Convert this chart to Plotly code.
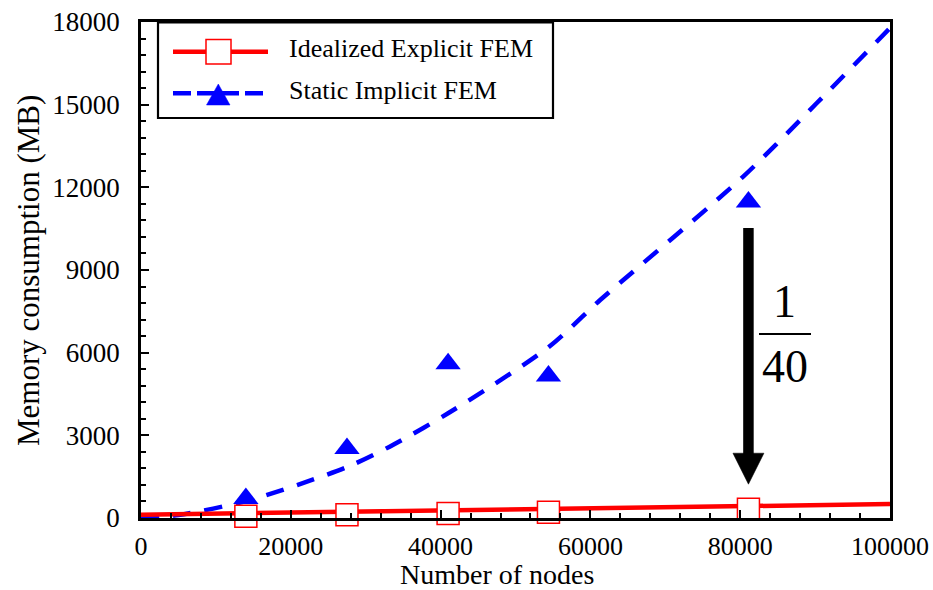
import plotly.graph_objects as go

# ---- data ----
nodes = [14000, 27500, 41000, 54400, 81100]
explicit_mb = [60, 120, 165, 210, 320]        # Idealized Explicit FEM
implicit_mb = [710, 2520, 5600, 5150, 11470]  # Static Implicit FEM

# trend lines
explicit_trend_x = [0, 50000, 100000]
explicit_trend_y = [120, 310, 505]
implicit_trend_x = [0, 5000, 14500, 27500, 33200, 41000, 54400, 61300, 80400, 90200, 100000]
implicit_trend_y = [0, 110, 650, 1850, 2590, 3800, 6200, 7910, 12390, 15050, 17780]

x_ticks = [0, 20000, 40000, 60000, 80000, 100000]
y_ticks = [0, 3000, 6000, 9000, 12000, 15000, 18000]

legend_labels = ["Idealized Explicit FEM", "Static Implicit FEM"]
ratio_num, ratio_den = "1", "40"

RED = "#ff0000"
BLUE = "#0000ff"
FONT = "Liberation Serif, Times New Roman, serif"

W, H = 933, 590
L, R, T, B = 141, 43, 22, 72
PW, PH = W - L - R, H - T - B


def px(x):
    return (x - L) / PW


def py(y):
    return (H - B - y) / PH


fig = go.Figure()

fig.add_trace(go.Scatter(
    x=implicit_trend_x, y=implicit_trend_y, mode="lines",
    line=dict(color=BLUE, width=4.5, dash="18px,14px", shape="spline", smoothing=0.8),
    showlegend=False, hoverinfo="skip"))
fig.add_trace(go.Scatter(
    x=nodes, y=implicit_mb, mode="markers",
    marker=dict(symbol="triangle-up", size=22, color=BLUE, line=dict(width=0)),
    showlegend=False, cliponaxis=False))
fig.add_trace(go.Scatter(
    x=explicit_trend_x, y=explicit_trend_y, mode="lines",
    line=dict(color=RED, width=4.5),
    showlegend=False, hoverinfo="skip"))
fig.add_trace(go.Scatter(
    x=nodes, y=explicit_mb, mode="markers",
    marker=dict(symbol="square", size=22, color="white", line=dict(color=RED, width=1.5)),
    showlegend=False, cliponaxis=False))

axis_common = dict(
    showline=True, linecolor="black", linewidth=2.5, mirror=True,
    ticks="inside", ticklen=8, tickwidth=2, tickcolor="black",
    showgrid=False, zeroline=False, automargin=False,
)

fig.update_xaxes(range=[0, 100000], tickvals=x_ticks, ticktext=[str(v) for v in x_ticks],
                 minor=dict(dtick=4000, tick0=0, ticks="inside", ticklen=5.5, tickwidth=1.5,
                            tickcolor="black"),
                 tickfont=dict(family=FONT, size=26, color="black"),
                 ticklabelstandoff=3, **axis_common)
fig.update_yaxes(range=[0, 18000], tickvals=y_ticks, ticktext=[str(v) for v in y_ticks],
                 minor=dict(dtick=600, tick0=0, ticks="inside", ticklen=5, tickwidth=1.5,
                            tickcolor="black"),
                 tickfont=dict(family=FONT, size=27, color="black"),
                 ticklabelstandoff=13, **axis_common)

shapes = []
annotations = []

# legend box
shapes.append(dict(type="rect", xref="paper", yref="paper",
                   x0=px(158), x1=px(553), y0=py(118), y1=py(22.5),
                   line=dict(color="black", width=2.2), fillcolor="white", layer="above"))
# legend entry 1: red line + open square
shapes.append(dict(type="line", xref="paper", yref="paper",
                   x0=px(173), x1=px(268), y0=py(51.7), y1=py(51.7),
                   line=dict(color=RED, width=4.5), layer="above"))
shapes.append(dict(type="rect", xref="paper", yref="paper",
                   x0=px(206), x1=px(231), y0=py(64), y1=py(39.5),
                   line=dict(color=RED, width=1.5), fillcolor="white", layer="above"))
# legend entry 2: blue dashed line + triangle
shapes.append(dict(type="line", xref="paper", yref="paper",
                   x0=px(173), x1=px(268), y0=py(93.3), y1=py(93.3),
                   line=dict(color=BLUE, width=4.5, dash="18px,6px"), layer="above"))
tri = "M {:.5f} {:.5f} L {:.5f} {:.5f} L {:.5f} {:.5f} Z".format(
    px(206.5), py(105), px(230), py(105), px(218.3), py(84))
shapes.append(dict(type="path", xref="paper", yref="paper", path=tri,
                   line=dict(color=BLUE, width=0.5), fillcolor=BLUE, layer="above"))

for label, yc in zip(legend_labels, [48.5, 90.5]):
    annotations.append(dict(text=label, xref="paper", yref="paper", x=px(287), y=py(yc),
                            xanchor="left", yanchor="middle", showarrow=False,
                            font=dict(family=FONT, size=26, color="black")))

# reduction arrow from the implicit value down to the explicit one
ax_x = nodes[-1]
ms_per_px = 18000 / PH
tail_y = implicit_mb[-1] - 26 * ms_per_px
tip_y = explicit_mb[-1] + 25 * ms_per_px
head_len = 31 * ms_per_px
half_w = 15.5 / PW * 100000
shapes.append(dict(type="line", xref="x", yref="y", x0=ax_x, x1=ax_x,
                   y0=tail_y, y1=tip_y + head_len - 1 * ms_per_px,
                   line=dict(color="black", width=10.5), layer="above"))
head = "M {:.1f} {:.1f} L {:.1f} {:.1f} L {:.1f} {:.1f} Z".format(
    ax_x - half_w, tip_y + head_len, ax_x + half_w, tip_y + head_len, ax_x, tip_y)
shapes.append(dict(type="path", xref="x", yref="y", path=head,
                   line=dict(color="black", width=0.5), fillcolor="black", layer="above"))

# ratio label 1/40
annotations.append(dict(text=ratio_num, xref="paper", yref="paper", x=px(784), y=py(301),
                        xanchor="center", yanchor="middle", showarrow=False,
                        font=dict(family=FONT, size=46, color="black")))
annotations.append(dict(text=ratio_den, xref="paper", yref="paper", x=px(785), y=py(366),
                        xanchor="center", yanchor="middle", showarrow=False,
                        font=dict(family=FONT, size=46, color="black")))
shapes.append(dict(type="line", xref="paper", yref="paper",
                   x0=px(759), x1=px(811), y0=py(334), y1=py(334),
                   line=dict(color="black", width=2), layer="above"))

# axis titles
annotations.append(dict(text="Number of nodes", xref="paper", yref="paper",
                        x=px(497), y=py(574.5), xanchor="center", yanchor="middle",
                        showarrow=False, font=dict(family=FONT, size=28, color="black")))
annotations.append(dict(text="Memory consumption (MB)", xref="paper", yref="paper",
                        x=px(28), y=py(271), xanchor="center", yanchor="middle",
                        textangle=-90, showarrow=False,
                        font=dict(family=FONT, size=31, color="black")))

fig.update_layout(
    width=W, height=H, autosize=False,
    margin=dict(l=L, r=R, t=T, b=B, pad=0, autoexpand=False),
    paper_bgcolor="white", plot_bgcolor="white",
    showlegend=False,
    shapes=shapes, annotations=annotations,
    font=dict(family=FONT, color="black"),
)

fig.write_html("out.html")
